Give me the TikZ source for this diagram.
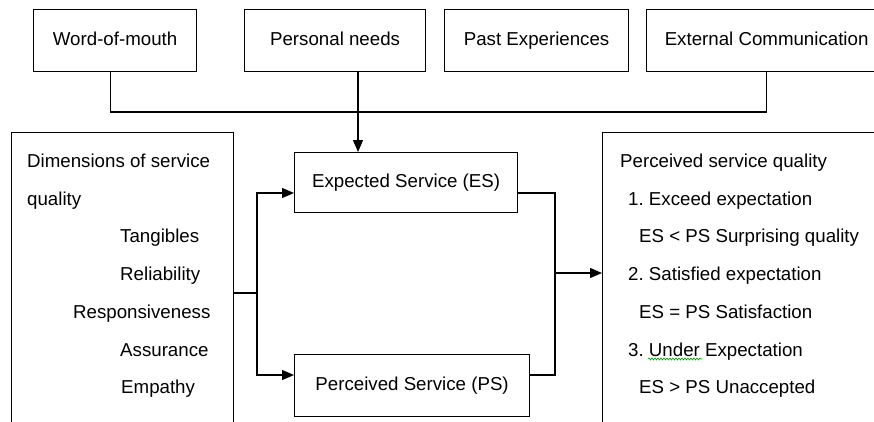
\documentclass[tikz,border=0pt]{standalone}
\usepackage{fontspec}
\setmainfont{Liberation Sans}
\frenchspacing
\usetikzlibrary{arrows.meta,decorations.pathmorphing}
\begin{document}
\begin{tikzpicture}[x=1pt,y=-1pt,
  box/.style={draw,line width=1.2pt,inner sep=0pt,anchor=north west,text height=13.5pt,text depth=4pt,font=\fontsize{18.7}{21}\selectfont},
  txt/.style={anchor=base west,inner sep=0pt,font=\fontsize{18.7}{21}\selectfont},
  conn/.style={line width=1.2pt},
  arr/.style={conn,-{Triangle[length=12pt,width=10pt]}}]
\clip (0,0) rectangle (874,421);
\fill[white] (0,0) rectangle (874,421);
% top boxes
\node[box,minimum width=163pt,minimum height=62pt] (wom) at (33,9) {Word-of-mouth};
\node[box,minimum width=181pt,minimum height=62pt] (pn) at (244,9) {Personal needs};
\node[box,minimum width=184pt,minimum height=62pt] (pe) at (444,9) {Past Experiences};
\node[box,minimum width=240pt,minimum height=62pt] (ec) at (646,9) {External Communication};
% middle boxes
\node[box,minimum width=223pt,minimum height=60pt] (es) at (294,152) {Expected Service (ES)};
\node[box,minimum width=235pt,minimum height=62pt] (ps) at (294,354) {Perceived Service (PS)};
% side boxes
\node[box,minimum width=222pt,minimum height=330pt] (dim) at (11,132) {};
\node[box,minimum width=300pt,minimum height=330pt] (psq) at (602,132) {};
% left texts
\node[txt] (d1) at (27,167) {Dimensions of service};
\node[txt] (d2) at (27,205) {quality};
\node[txt] (d3) at (120,242.5) {Tangibles};
\node[txt] (d4) at (120,280) {Reliability};
\node[txt] (d5) at (73,318) {Responsiveness};
\node[txt] (d6) at (120,356) {Assurance};
\node[txt] (d7) at (121,393) {Empathy};
% right texts
\node[txt] (p1) at (620,167) {Perceived service quality};
\node[txt] (p2) at (628,205) {1. Exceed expectation};
\node[txt] (p3) at (639,242.5) {ES < PS Surprising quality};
\node[txt] (p4) at (628,280) {2. Satisfied expectation};
\node[txt] (p5) at (639,318) {ES = PS Satisfaction};
\node[txt] (p6) at (628,356) {3. Under Expectation};
\node[txt] (p7) at (639,393) {ES > PS Unaccepted};
\draw[green!60!black,line width=0.6pt,decorate,decoration={snake,amplitude=1pt,segment length=3pt}] (648,359) -- (702,359);
% top connectors
\coordinate (hl) at (0,112);
\draw[conn] ([xshift=-4.5pt]wom.south) -- ([xshift=-4.5pt]wom.south |- hl) -- (ec.south |- hl) -- (ec.south);
\draw[arr] (pn.south -| 358,0) -- (es.north -| 358,0);
% left connectors
\coordinate (lj) at (257,293);
\draw[conn] (dim.east |- lj) -- (lj);
\draw[arr] (lj) |- (es.west |- 0,193);
\draw[arr] (lj) |- (ps.west |- 0,375);
% right connectors
\coordinate (rj) at (555,273);
\draw[conn] (es.east |- 0,193) -| (rj) |- (ps.east |- 0,375);
\draw[arr] (rj) -- (psq.west |- rj);
\end{tikzpicture}
\end{document}
